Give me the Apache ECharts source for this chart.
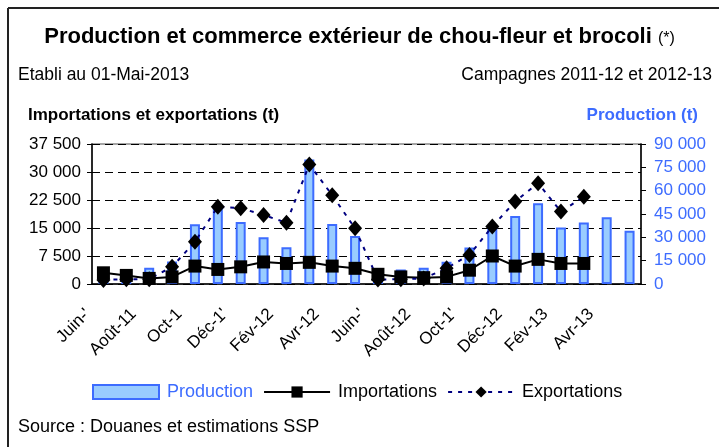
<!DOCTYPE html>
<html>
<head>
<meta charset="utf-8">
<script src="https://cdn.jsdelivr.net/npm/echarts@6/dist/echarts.min.js"></script>
<style>
  html, body { margin: 0; padding: 0; background: #fff; }
  #chart { width: 719px; height: 447px; }
</style>
</head>
<body>
<div id="chart"></div>
<script>
// mois des campagnes 2011-12 et 2012-13
const months = ['Juin-11', 'Juil-11', 'Août-11', 'Sept-11', 'Oct-11', 'Nov-11', 'Déc-11', 'Janv-12',
  'Fév-12', 'Mars-12', 'Avr-12', 'Mai-12', 'Juin-12', 'Juil-12', 'Août-12', 'Sept-12', 'Oct-12',
  'Nov-12', 'Déc-12', 'Janv-13', 'Fév-13', 'Mars-13', 'Avr-13', 'Mai-13']
// libellés affichés (un mois sur deux, tels que dans l'original)
const tickLabels = ["Juin-'", 'Août-11', 'Oct-1', "Déc-1'", 'Fév-12', 'Avr-12', "Juin-'", 'Août-12', "Oct-1'", 'Déc-12', 'Fév-13', 'Avr-13']

const production = [6000, 9600, 10500, 14500, 38400, 50000, 39800, 30000, 23600, 80100, 38600, 30900,
  5500, 9400, 10500, 14300, 23500, 36900, 43700, 51900, 36400, 39600, 42900, 34300]
const importations = [3000, 2300, 1500, 1900, 4800, 3900, 4600, 5900, 5500, 5800, 4800, 4200,
  2600, 1900, 1700, 1900, 3700, 7500, 4800, 6600, 5500, 5500, null, null]
const exportations = [1100, 1300, 1300, 4600, 11300, 20700, 20300, 18500, 16400, 32000, 23800, 14900,
  1200, 1300, 1500, 4200, 7800, 15400, 22100, 27000, 19400, 23400, null, null]

const FONT = 'Liberation Sans, Arial, sans-serif'
const BLUE = '#3d6cff'

function fmt(v) {
  if (v < 1000) return String(v)
  return Math.floor(v / 1000) + ' ' + String(v % 1000).padStart(3, '0')
}

let chart = echarts.init(document.getElementById('chart'), null, { renderer: 'canvas' })

let option = {
  backgroundColor: '#fff',
  animation: false,
  textStyle: { fontFamily: FONT },
  title: [
    {
      text: 'Production et commerce extérieur de chou-fleur et brocoli {s|(*)}',
      left: 'center', top: 21,
      textStyle: {
        fontFamily: FONT, fontSize: 22, fontWeight: 'bold', color: '#000',
        rich: { s: { fontFamily: FONT, fontSize: 16, fontWeight: 'normal', color: '#000', padding: [4, 0, 0, 0] } }
      }
    },
    { text: 'Etabli au 01-Mai-2013', left: 13, top: 61, textStyle: { fontFamily: FONT, fontSize: 17.5, fontWeight: 'normal', color: '#000' } },
    { text: 'Campagnes 2011-12 et 2012-13', right: 2, top: 61, textStyle: { fontFamily: FONT, fontSize: 17.5, fontWeight: 'normal', color: '#000' } },
    { text: 'Importations et exportations (t)', left: 23, top: 102, textStyle: { fontFamily: FONT, fontSize: 17, fontWeight: 'bold', color: '#000' } },
    { text: 'Production (t)', right: 16, top: 102, textStyle: { fontFamily: FONT, fontSize: 17, fontWeight: 'bold', color: BLUE } },
    { text: 'Source : Douanes et estimations SSP', left: 13, top: 413, textStyle: { fontFamily: FONT, fontSize: 18, fontWeight: 'normal', color: '#000' } }
  ],
  graphic: [
    { type: 'line', shape: { x1: 8, y1: 8, x2: 719, y2: 8 }, style: { stroke: '#222', lineWidth: 2 } },
    { type: 'line', shape: { x1: 8, y1: 8, x2: 8, y2: 447 }, style: { stroke: '#222', lineWidth: 2 } }
  ],
  legend: {
    left: 87, top: 378,
    itemWidth: 66, itemHeight: 14, itemGap: 10,
    textStyle: { fontFamily: FONT, fontSize: 18, color: '#000', padding: [0, 0, 0, 3] },
    data: [
      { name: 'Production', icon: 'rect', textStyle: { color: BLUE } },
      { name: 'Importations' },
      { name: 'Exportations' }
    ]
  },
  grid: {
    left: 92, right: 78, top: 144, bottom: 163,
    show: true, borderColor: '#888', borderWidth: 1.5
  },
  xAxis: {
    type: 'category',
    data: months,
    boundaryGap: true,
    axisLine: { lineStyle: { color: '#000', width: 1.5 } },
    axisTick: { interval: 0, length: 5, lineStyle: { color: '#000' } },
    axisLabel: {
      interval: 1, rotate: 45, margin: 12,
      fontFamily: FONT, fontSize: 17, color: '#000',
      padding: [0, 22, 0, 0],
      formatter: (v, i) => tickLabels[i / 2]
    }
  },
  yAxis: [
    {
      type: 'value', min: 0, max: 37500, interval: 7500,
      axisLine: { show: true, lineStyle: { color: '#000', width: 1.5 } },
      axisTick: { show: true, length: 5, lineStyle: { color: '#000' } },
      axisLabel: { fontFamily: FONT, fontSize: 17, color: '#000', margin: 11, formatter: fmt },
      splitLine: { show: true, lineStyle: { color: '#000', type: [8, 5], width: 1 } }
    },
    {
      type: 'value', min: 0, max: 90000, interval: 15000, position: 'right',
      axisLine: { show: true, lineStyle: { color: '#000', width: 1.5 } },
      axisTick: { show: true, length: 5, lineStyle: { color: '#000' } },
      axisLabel: { fontFamily: FONT, fontSize: 17, color: BLUE, margin: 13, formatter: fmt },
      splitLine: { show: false }
    }
  ],
  series: [
    {
      name: 'Production', type: 'bar', yAxisIndex: 1,
      data: production, barWidth: 10,
      itemStyle: { color: '#99ccff', borderColor: BLUE, borderWidth: 2 }
    },
    {
      name: 'Importations', type: 'line', yAxisIndex: 0,
      data: importations, showAllSymbol: true,
      symbol: 'rect', symbolSize: 13,
      lineStyle: { color: '#000', width: 2 },
      itemStyle: { color: '#000' }
    },
    {
      name: 'Exportations', type: 'line', yAxisIndex: 0,
      data: exportations, showAllSymbol: true,
      symbol: 'diamond', symbolSize: [14, 16],
      lineStyle: { color: '#000080', width: 2, type: [4, 6] },
      itemStyle: { color: '#000' }
    }
  ]
}

chart.setOption(option)
</script>
</body>
</html>
